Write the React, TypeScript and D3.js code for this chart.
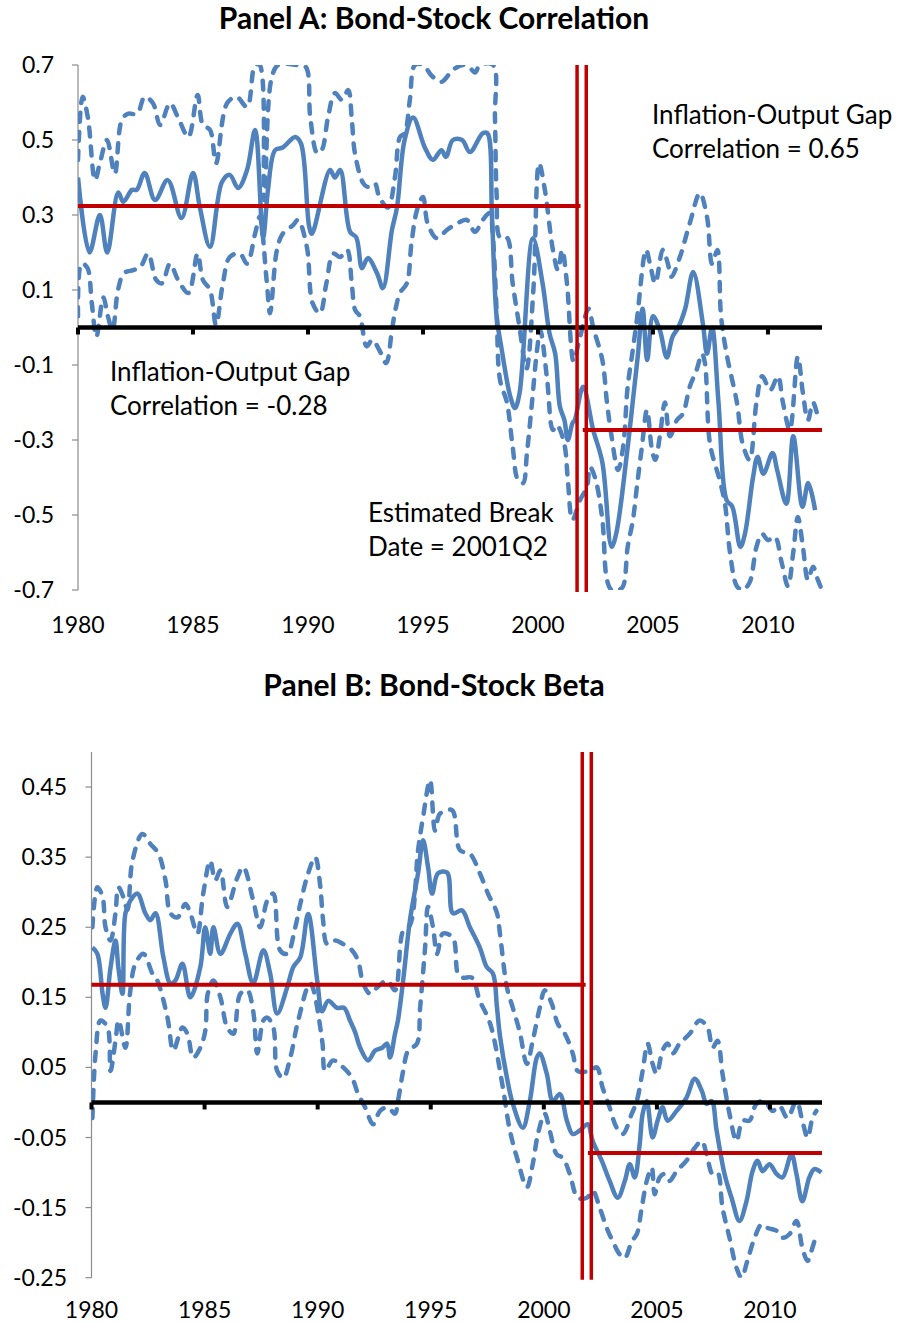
import * as d3 from 'd3';

type Pt = [number, number];

// Panel A: rolling bond-stock correlation (year, value)
const corrMid: Pt[] = [
  [1980.0, 0.40], [1980.5, 0.20], [1980.95, 0.30], [1981.27, 0.20], [1981.75, 0.36], [1981.97, 0.335],
  [1982.35, 0.367], [1982.55, 0.367], [1982.9, 0.412], [1983.35, 0.34], [1983.9, 0.393], [1984.5, 0.292],
  [1985.0, 0.412], [1985.3, 0.32], [1985.74, 0.215], [1986.26, 0.388], [1986.6, 0.407], [1986.96, 0.372],
  [1987.35, 0.42], [1987.7, 0.527], [1988.05, 0.241], [1988.26, 0.367], [1988.57, 0.473], [1988.9, 0.48],
  [1989.45, 0.508], [1989.7, 0.49], [1990.05, 0.27], [1990.17, 0.25], [1990.96, 0.42], [1991.17, 0.40],
  [1991.4, 0.42], [1991.83, 0.255], [1992.1, 0.24], [1992.35, 0.158], [1992.6, 0.185], [1993.0, 0.145],
  [1993.26, 0.105], [1993.65, 0.26], [1993.87, 0.32], [1994.2, 0.50], [1994.57, 0.56], [1995.08, 0.48],
  [1995.43, 0.447], [1995.8, 0.473], [1996.0, 0.455], [1996.3, 0.50], [1996.7, 0.50], [1997.04, 0.468],
  [1997.6, 0.518], [1997.8, 0.518], [1998.0, 0.295], [1998.2, 0.03], [1998.4, -0.05], [1998.8, -0.185],
  [1999.0, -0.215], [1999.2, -0.175], [1999.78, 0.238], [2000.2, 0.118], [2000.5, -0.015], [2000.75, -0.07],
  [2000.95, -0.21], [2001.15, -0.247], [2001.3, -0.30], [2001.5, -0.255], [2001.6, -0.247], [2001.96, -0.158],
  [2002.4, -0.273], [2002.8, -0.36], [2003.2, -0.585], [2003.4, -0.55], [2003.87, -0.335], [2004.13, -0.193],
  [2004.35, -0.07], [2004.55, 0.05], [2004.75, -0.087], [2005.0, 0.03], [2005.3, -0.007], [2005.6, -0.08],
  [2005.85, -0.025], [2006.1, 0.0], [2006.4, 0.05], [2006.75, 0.148], [2007.17, 0.01], [2007.35, -0.07],
  [2007.57, 0.0], [2007.85, -0.2], [2008.2, -0.46], [2008.45, -0.478], [2008.8, -0.585], [2009.0, -0.55],
  [2009.35, -0.40], [2009.55, -0.345], [2009.8, -0.39], [2010.2, -0.335], [2010.4, -0.38], [2010.8, -0.47],
  [2011.1, -0.29], [2011.5, -0.478], [2011.75, -0.415], [2012.05, -0.487],
];

const corrUpper: Pt[] = [
  [1980.0, 0.447], [1980.2, 0.615], [1980.43, 0.56], [1980.74, 0.393], [1980.95, 0.438], [1981.26, 0.50],
  [1981.6, 0.41], [1981.9, 0.553], [1982.17, 0.57], [1982.57, 0.57], [1982.9, 0.615], [1983.26, 0.598],
  [1983.57, 0.54], [1984.0, 0.598], [1984.35, 0.56], [1984.8, 0.508], [1985.2, 0.62], [1985.43, 0.54],
  [1985.74, 0.527], [1986.0, 0.438], [1986.48, 0.598], [1986.9, 0.615], [1987.35, 0.588], [1987.7, 0.70],
  [1987.9, 0.70], [1988.1, 0.34], [1988.4, 0.66], [1988.7, 0.70], [1989.5, 0.70], [1989.9, 0.695],
  [1990.1, 0.56], [1990.4, 0.465], [1990.6, 0.473], [1990.87, 0.56], [1991.17, 0.625], [1991.48, 0.607],
  [1991.75, 0.633], [1991.9, 0.56], [1992.04, 0.465], [1992.4, 0.385], [1992.6, 0.375], [1992.9, 0.385],
  [1993.1, 0.348], [1993.48, 0.32], [1993.78, 0.40], [1994.0, 0.508], [1994.2, 0.518], [1994.43, 0.607],
  [1994.65, 0.70], [1995.0, 0.70], [1995.4, 0.67], [1995.8, 0.655], [1996.3, 0.687], [1996.74, 0.70],
  [1997.0, 0.695], [1997.26, 0.68], [1997.48, 0.70], [1998.05, 0.70], [1998.13, 0.56], [1998.2, 0.358],
  [1998.35, 0.24], [1998.65, 0.24], [1998.9, 0.118], [1999.2, 0.0], [1999.5, -0.11], [1999.8, 0.1],
  [2000.05, 0.438], [2000.3, 0.367], [2000.65, 0.207], [2000.87, 0.153], [2001.05, 0.207], [2001.26, 0.118],
  [2001.55, -0.09], [2001.8, -0.033], [2002.2, 0.05], [2002.4, 0.0], [2002.8, -0.087], [2003.0, -0.2],
  [2003.2, -0.29], [2003.48, -0.38], [2003.7, -0.32], [2003.9, -0.158], [2004.1, -0.07], [2004.3, 0.02],
  [2004.7, 0.207], [2004.87, 0.17], [2005.1, 0.118], [2005.43, 0.207], [2005.65, 0.17], [2005.8, 0.135],
  [2006.17, 0.188], [2006.6, 0.278], [2007.04, 0.358], [2007.35, 0.295], [2007.57, 0.17], [2007.8, 0.207],
  [2007.96, 0.03], [2008.2, -0.07], [2008.65, -0.2], [2008.9, -0.31], [2009.2, -0.353], [2009.5, -0.2],
  [2009.75, -0.13], [2010.1, -0.167], [2010.43, -0.13], [2010.65, -0.2], [2010.95, -0.273], [2011.3, -0.078],
  [2011.52, -0.175], [2011.74, -0.247], [2011.96, -0.2], [2012.2, -0.247],
];

const corrLower: Pt[] = [
  [1980.0, 0.03], [1980.15, 0.17], [1980.4, 0.16], [1980.6, 0.065], [1980.8, -0.025], [1981.1, 0.08],
  [1981.3, 0.03], [1981.5, -0.007], [1981.74, 0.10], [1982.0, 0.145], [1982.4, 0.153], [1982.7, 0.16],
  [1983.05, 0.197], [1983.4, 0.127], [1983.65, 0.118], [1984.0, 0.17], [1984.35, 0.127], [1984.8, 0.092],
  [1985.2, 0.197], [1985.43, 0.127], [1985.74, 0.10], [1986.0, 0.007], [1986.3, 0.118], [1986.6, 0.188],
  [1987.04, 0.197], [1987.35, 0.17], [1987.7, 0.25], [1987.9, 0.295], [1988.2, 0.127], [1988.35, 0.038],
  [1988.65, 0.207], [1988.9, 0.25], [1989.35, 0.273], [1989.57, 0.287], [1989.95, 0.215], [1990.2, 0.065],
  [1990.52, 0.038], [1990.8, 0.118], [1991.1, 0.197], [1991.4, 0.188], [1991.7, 0.207], [1991.9, 0.12],
  [1992.05, 0.047], [1992.26, 0.03], [1992.55, -0.05], [1992.8, -0.033], [1993.1, -0.06], [1993.4, -0.095],
  [1993.65, -0.007], [1993.8, 0.047], [1994.0, 0.092], [1994.3, 0.118], [1994.5, 0.225], [1994.74, 0.313],
  [1995.0, 0.348], [1995.2, 0.278], [1995.6, 0.238], [1996.04, 0.26], [1996.5, 0.278], [1996.9, 0.287],
  [1997.26, 0.255], [1997.6, 0.287], [1997.9, 0.305], [1998.04, 0.24], [1998.2, 0.047], [1998.35, -0.14],
  [1998.65, -0.2], [1998.9, -0.318], [1999.13, -0.407], [1999.35, -0.415], [1999.52, -0.335], [1999.74, -0.2],
  [1999.96, -0.06], [2000.1, -0.007], [2000.4, -0.14], [2000.65, -0.273], [2000.83, -0.26], [2000.96, -0.273],
  [2001.17, -0.318], [2001.3, -0.407], [2001.5, -0.513], [2001.83, -0.46], [2002.13, -0.425], [2002.26, -0.372],
  [2002.48, -0.40], [2002.8, -0.513], [2003.0, -0.673], [2003.2, -0.70], [2003.5, -0.70], [2003.7, -0.69],
  [2003.9, -0.585], [2004.13, -0.513], [2004.3, -0.425], [2004.52, -0.318], [2004.74, -0.22], [2004.96, -0.327],
  [2005.1, -0.353], [2005.3, -0.29], [2005.52, -0.2], [2005.74, -0.29], [2006.04, -0.247], [2006.3, -0.23],
  [2006.6, -0.158], [2006.9, -0.113], [2007.13, -0.07], [2007.26, -0.095], [2007.48, -0.31], [2007.9, -0.407],
  [2008.13, -0.47], [2008.35, -0.60], [2008.65, -0.69], [2008.9, -0.70], [2009.2, -0.68], [2009.5, -0.585],
  [2009.74, -0.55], [2010.0, -0.567], [2010.3, -0.558], [2010.6, -0.628], [2010.87, -0.69], [2011.1, -0.60],
  [2011.3, -0.505], [2011.52, -0.585], [2011.74, -0.673], [2011.96, -0.638], [2012.17, -0.673], [2012.35, -0.70],
];

// Panel B: rolling bond-stock beta (year, value)
const betaMid: Pt[] = [
  [1980.04, 0.221], [1980.26, 0.212], [1980.49, 0.155], [1980.62, 0.135], [1980.84, 0.192], [1981.06, 0.231],
  [1981.19, 0.192], [1981.37, 0.155], [1981.5, 0.27], [1981.72, 0.288], [1982.03, 0.298], [1982.38, 0.27],
  [1982.6, 0.26], [1982.83, 0.27], [1983.18, 0.207], [1983.49, 0.17], [1983.71, 0.174], [1984.02, 0.198],
  [1984.37, 0.15], [1984.81, 0.193], [1985.03, 0.25], [1985.25, 0.212], [1985.39, 0.25], [1985.7, 0.212],
  [1986.14, 0.241], [1986.45, 0.255], [1986.8, 0.212], [1987.15, 0.17], [1987.6, 0.217], [1987.9, 0.184],
  [1988.21, 0.127], [1988.65, 0.164], [1988.92, 0.193], [1989.23, 0.207], [1989.58, 0.269], [1989.98, 0.174],
  [1990.2, 0.13], [1990.46, 0.145], [1990.86, 0.135], [1991.17, 0.135], [1991.43, 0.117], [1991.66, 0.10],
  [1991.88, 0.078], [1992.23, 0.06], [1992.54, 0.074], [1992.85, 0.078], [1993.07, 0.084], [1993.2, 0.064],
  [1993.42, 0.098], [1993.55, 0.117], [1993.78, 0.174], [1994.08, 0.26], [1994.44, 0.327], [1994.66, 0.374],
  [1994.88, 0.336], [1995.06, 0.298], [1995.32, 0.327], [1995.72, 0.328], [1995.98, 0.27], [1996.38, 0.274],
  [1996.73, 0.25], [1997.17, 0.221], [1997.48, 0.193], [1997.75, 0.184], [1997.93, 0.135], [1998.06, 0.095],
  [1998.37, 0.035], [1998.63, -0.002], [1999.07, -0.036], [1999.38, 0.002], [1999.69, 0.064], [1999.82, 0.07],
  [2000.13, 0.041], [2000.4, 0.002], [2000.71, 0.012], [2001.02, -0.026], [2001.28, -0.045], [2001.59, -0.04],
  [2001.94, -0.031], [2002.16, -0.055], [2002.56, -0.083], [2002.91, -0.112], [2003.27, -0.136], [2003.58, -0.112],
  [2003.8, -0.088], [2004.02, -0.107], [2004.24, -0.059], [2004.37, -0.016], [2004.55, 0.002], [2004.81, -0.05],
  [2005.03, -0.026], [2005.25, -0.007], [2005.47, -0.026], [2005.87, -0.012], [2006.31, 0.007], [2006.67, 0.034],
  [2006.98, 0.017], [2007.2, -0.002], [2007.42, 0.002], [2007.64, -0.04], [2007.99, -0.102], [2008.3, -0.136],
  [2008.65, -0.169], [2008.96, -0.141], [2009.23, -0.098], [2009.45, -0.083], [2009.67, -0.098], [2009.98, -0.088],
  [2010.29, -0.102], [2010.55, -0.107], [2010.95, -0.074], [2011.17, -0.102], [2011.43, -0.141], [2011.74, -0.107],
  [2011.96, -0.095], [2012.27, -0.10],
];

const betaUpper: Pt[] = [
  [1980.04, 0.25], [1980.26, 0.307], [1980.49, 0.293], [1980.62, 0.25], [1980.84, 0.231], [1981.06, 0.27],
  [1981.19, 0.307], [1981.41, 0.293], [1981.59, 0.275], [1981.81, 0.345], [1982.25, 0.383], [1982.6, 0.369],
  [1982.96, 0.355], [1983.27, 0.317], [1983.49, 0.27], [1983.8, 0.264], [1984.15, 0.283], [1984.37, 0.27],
  [1984.68, 0.241], [1984.94, 0.298], [1985.25, 0.345], [1985.47, 0.317], [1985.7, 0.331], [1986.0, 0.279],
  [1986.45, 0.321], [1986.71, 0.336], [1987.15, 0.288], [1987.46, 0.25], [1987.77, 0.288], [1988.04, 0.298],
  [1988.34, 0.217], [1988.65, 0.212], [1989.01, 0.25], [1989.23, 0.283], [1989.58, 0.327], [1989.89, 0.35],
  [1990.11, 0.31], [1990.24, 0.26], [1990.42, 0.226], [1990.77, 0.231], [1991.13, 0.226], [1991.52, 0.217],
  [1991.79, 0.202], [1992.01, 0.17], [1992.32, 0.155], [1992.63, 0.164], [1993.07, 0.174], [1993.42, 0.16],
  [1993.78, 0.245], [1994.08, 0.253], [1994.44, 0.36], [1994.66, 0.407], [1994.97, 0.46], [1995.19, 0.388],
  [1995.41, 0.412], [1995.94, 0.417], [1996.29, 0.36], [1996.73, 0.355], [1997.17, 0.327], [1997.53, 0.298],
  [1997.93, 0.27], [1998.06, 0.241], [1998.37, 0.164], [1998.63, 0.135], [1998.94, 0.10], [1999.25, 0.055],
  [1999.51, 0.088], [1999.82, 0.135], [2000.04, 0.16], [2000.35, 0.141], [2000.62, 0.112], [2000.93, 0.098],
  [2001.28, 0.07], [2001.5, 0.045], [2002.03, 0.045], [2002.34, 0.05], [2002.6, 0.021], [2002.91, -0.007],
  [2003.22, -0.036], [2003.49, -0.045], [2003.89, -0.016], [2004.11, 0.002], [2004.37, 0.045], [2004.59, 0.084],
  [2004.81, 0.055], [2004.99, 0.041], [2005.25, 0.074], [2005.47, 0.084], [2005.7, 0.07], [2006.0, 0.084],
  [2006.45, 0.098], [2006.89, 0.117], [2007.24, 0.107], [2007.46, 0.078], [2007.68, 0.088], [2007.9, 0.041],
  [2008.21, -0.016], [2008.52, -0.055], [2008.79, -0.026], [2009.09, -0.026], [2009.4, -0.002], [2009.76, 0.002],
  [2010.11, -0.012], [2010.42, -0.005], [2010.77, -0.022], [2011.17, 0.002], [2011.43, -0.026], [2011.66, -0.05],
  [2011.88, -0.022], [2012.05, -0.012],
];

const betaLower: Pt[] = [
  [1980.04, -0.022], [1980.18, 0.07], [1980.4, 0.117], [1980.71, 0.107], [1980.84, 0.045], [1981.06, 0.088],
  [1981.2, 0.117], [1981.5, 0.078], [1981.7, 0.155], [1981.94, 0.198], [1982.3, 0.212], [1982.69, 0.184],
  [1982.91, 0.174], [1983.36, 0.121], [1983.62, 0.074], [1984.02, 0.107], [1984.24, 0.098], [1984.5, 0.064],
  [1984.81, 0.078], [1985.03, 0.102], [1985.14, 0.155], [1985.39, 0.174], [1985.7, 0.15], [1986.0, 0.107],
  [1986.27, 0.098], [1986.58, 0.155], [1986.89, 0.16], [1987.15, 0.13], [1987.33, 0.07], [1987.6, 0.117],
  [1987.77, 0.121], [1988.04, 0.107], [1988.21, 0.045], [1988.48, 0.035], [1988.79, 0.064], [1989.14, 0.117],
  [1989.67, 0.17], [1990.2, 0.088], [1990.33, 0.045], [1990.68, 0.06], [1991.13, 0.05], [1991.52, 0.035],
  [1991.79, 0.012], [1992.1, -0.007], [1992.45, -0.031], [1992.76, -0.012], [1993.11, -0.007], [1993.42, -0.016],
  [1993.55, 0.002], [1993.78, 0.045], [1994.0, 0.074], [1994.39, 0.084], [1994.53, 0.135], [1994.75, 0.221],
  [1994.88, 0.279], [1995.1, 0.25], [1995.28, 0.212], [1995.54, 0.241], [1995.98, 0.235], [1996.2, 0.184],
  [1996.42, 0.178], [1996.82, 0.178], [1997.17, 0.145], [1997.53, 0.121], [1997.75, 0.098], [1998.19, 0.021],
  [1998.5, -0.04], [1998.85, -0.083], [1999.25, -0.121], [1999.51, -0.088], [1999.74, -0.045], [2000.04, -0.016],
  [2000.26, -0.04], [2000.57, -0.074], [2000.84, -0.079], [2001.15, -0.102], [2001.5, -0.136], [2001.9, -0.136],
  [2002.16, -0.126], [2002.47, -0.15], [2002.78, -0.179], [2003.05, -0.198], [2003.36, -0.217], [2003.58, -0.222],
  [2003.89, -0.198], [2004.11, -0.188], [2004.33, -0.15], [2004.55, -0.112], [2004.77, -0.093], [2004.9, -0.131],
  [2005.12, -0.107], [2005.34, -0.102], [2005.56, -0.112], [2005.87, -0.098], [2006.31, -0.083], [2006.67, -0.065],
  [2006.98, -0.055], [2007.2, -0.074], [2007.46, -0.102], [2007.68, -0.10], [2007.9, -0.15], [2008.21, -0.193],
  [2008.52, -0.236], [2008.74, -0.25], [2009.0, -0.226], [2009.32, -0.193], [2009.63, -0.174], [2009.89, -0.179],
  [2010.29, -0.183], [2010.55, -0.193], [2010.86, -0.188], [2011.17, -0.169], [2011.43, -0.207], [2011.66, -0.226],
  [2011.88, -0.207], [2012.05, -0.188],
];

// regime means before / after the break, and the break window (years)
const corrMeans = [0.324, -0.273];
const betaMeans = [0.168, -0.072];
const breakLines = [2001.7, 2002.1];
const meanSplit = [2001.85, 2001.95];

const yearTicks = [1980, 1985, 1990, 1995, 2000, 2005, 2010];
const corrTicks = [-0.7, -0.5, -0.3, -0.1, 0.1, 0.3, 0.5, 0.7];
const betaTicks = [-0.25, -0.15, -0.05, 0.05, 0.15, 0.25, 0.35, 0.45];

const BLUE = '#4F81BD';
const RED = '#C00000';
const FONT = 'Lato, "Open Sans", sans-serif';

type Note = { x: number; y: number; lines: string[] };

type PanelProps = {
  id: string;
  title: string;
  titleY: number;
  left: number;
  right: number;
  top: number;
  bottom: number;
  xMax: number;
  yDomain: [number, number];
  yTicks: number[];
  digits: number;
  labelRight: number;
  xLabelY: number;
  mid: Pt[];
  upper: Pt[];
  lower: Pt[];
  means: number[];
  notes: Note[];
};

function Panel(p: PanelProps) {
  const x = d3.scaleLinear().domain([1980, p.xMax]).range([p.left, p.right]);
  const y = d3.scaleLinear().domain(p.yDomain).range([p.bottom, p.top]);
  const line = d3
    .line<Pt>()
    .x(d => x(d[0]))
    .y(d => y(d[1]))
    .curve(d3.curveCatmullRom.alpha(0.5));
  const y0 = y(0);

  return (
    <g>
      <defs>
        <clipPath id={`clip-${p.id}`}>
          <rect x={p.left} y={p.top} width={p.right - p.left + 4} height={p.bottom - p.top} />
        </clipPath>
      </defs>
      <text x={434} y={p.titleY} textAnchor="middle" fontSize={30} fontWeight={700} fontFamily={FONT}>
        {p.title}
      </text>

      {/* y axis */}
      <line x1={p.left} x2={p.left} y1={p.top} y2={p.bottom} stroke="#8c8c8c" strokeWidth={1.2} />
      {p.yTicks.map(t => (
        <g key={t}>
          <line x1={p.left - 6} x2={p.left} y1={y(t)} y2={y(t)} stroke="#8c8c8c" strokeWidth={1.2} />
          <text
            x={p.labelRight}
            y={y(t)}
            dy="0.35em"
            textAnchor="end"
            fontSize={23}
            fontFamily={FONT}
            fill="#000"
          >
            {t.toFixed(p.digits)}
          </text>
        </g>
      ))}

      {/* year labels */}
      {yearTicks.map(t => (
        <text key={t} x={x(t)} y={p.xLabelY} textAnchor="middle" fontSize={23} fontFamily={FONT} fill="#000">
          {t}
        </text>
      ))}

      {/* series */}
      <g clipPath={`url(#clip-${p.id})`} fill="none" stroke={BLUE} strokeLinejoin="round">
        <path d={line(p.upper) ?? ''} strokeWidth={4.5} strokeDasharray="9 10" strokeLinecap="round" />
        <path d={line(p.lower) ?? ''} strokeWidth={4.5} strokeDasharray="9 10" strokeLinecap="round" />
        <path d={line(p.mid) ?? ''} strokeWidth={4.5} />
      </g>

      {/* zero axis with year ticks */}
      <line x1={p.left} x2={p.right} y1={y0} y2={y0} stroke="#000" strokeWidth={4.5} />
      {yearTicks.map(t => (
        <line key={t} x1={x(t)} x2={x(t)} y1={y0} y2={y0 + 7} stroke="#000" strokeWidth={4} />
      ))}

      {/* break window and regime means */}
      {breakLines.map(b => (
        <line key={b} x1={x(b)} x2={x(b)} y1={p.top} y2={p.bottom + 2} stroke={RED} strokeWidth={3.5} />
      ))}
      <line x1={p.left} x2={x(meanSplit[0])} y1={y(p.means[0])} y2={y(p.means[0])} stroke={RED} strokeWidth={4} />
      <line x1={x(meanSplit[1])} x2={p.right} y1={y(p.means[1])} y2={y(p.means[1])} stroke={RED} strokeWidth={4} />

      {p.notes.map((n, i) => (
        <text key={i} fontSize={26} fontFamily={FONT} fill="#000">
          {n.lines.map((s, j) => (
            <tspan key={j} x={n.x} y={n.y + j * 34}>
              {s}
            </tspan>
          ))}
        </text>
      ))}
    </g>
  );
}

export default function App() {
  return (
    <>
      <style>{'body{margin:0}'}</style>
      <svg width={898} height={1323} style={{ display: 'block', background: '#fff' }}>
        <rect width={898} height={1323} fill="#fff" />
        <Panel
          id="a"
          title="Panel A: Bond-Stock Correlation"
          titleY={29}
          left={78}
          right={822}
          top={65}
          bottom={590}
          xMax={2012.35}
          yDomain={[-0.7, 0.7]}
          yTicks={corrTicks}
          digits={1}
          labelRight={54}
          xLabelY={633}
          mid={corrMid}
          upper={corrUpper}
          lower={corrLower}
          means={corrMeans}
          notes={[
            { x: 652, y: 124, lines: ['Inflation-Output Gap', 'Correlation = 0.65'] },
            { x: 110, y: 381, lines: ['Inflation-Output Gap', 'Correlation = -0.28'] },
            { x: 368, y: 522, lines: ['Estimated Break', 'Date = 2001Q2'] },
          ]}
        />
        <Panel
          id="b"
          title="Panel B: Bond-Stock Beta"
          titleY={696}
          left={91.5}
          right={822}
          top={752}
          bottom={1277.7}
          xMax={2012.3}
          yDomain={[-0.25, 0.5]}
          yTicks={betaTicks}
          digits={2}
          labelRight={67}
          xLabelY={1318}
          mid={betaMid}
          upper={betaUpper}
          lower={betaLower}
          means={betaMeans}
          notes={[]}
        />
      </svg>
    </>
  );
}
